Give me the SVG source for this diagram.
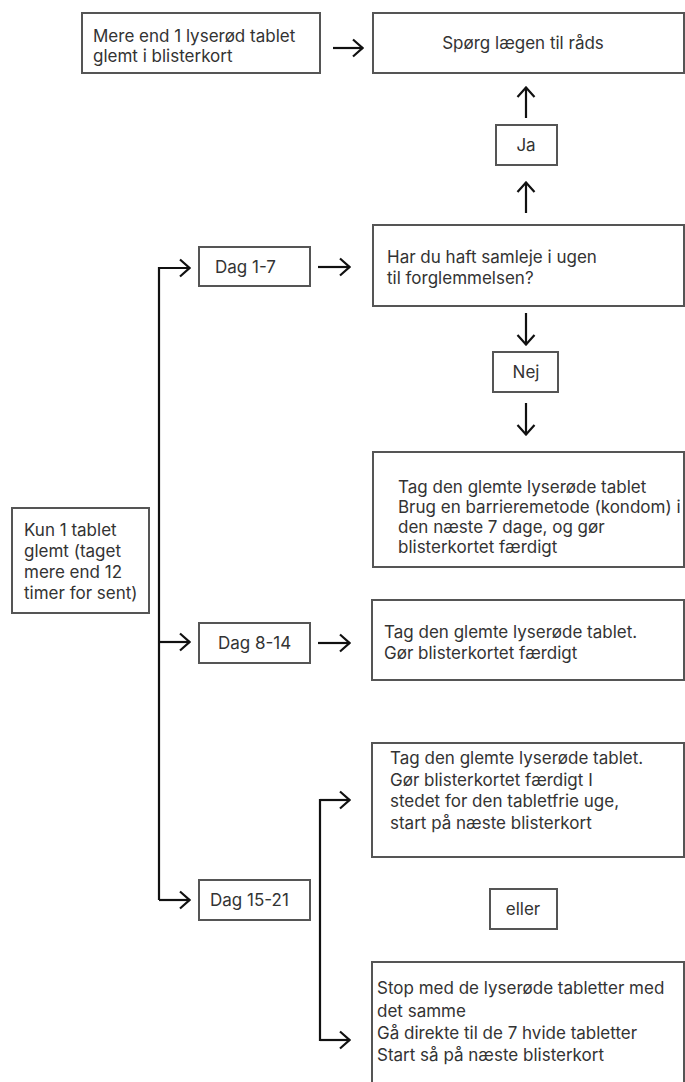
<svg xmlns="http://www.w3.org/2000/svg" width="685" height="1082" viewBox="0 0 685 1082">
<defs>
<style>
.box{fill:#fff;stroke:#555;stroke-width:2}
.t{font-family:Inter,"Liberation Sans",sans-serif;font-size:17px;fill:#333}
.c{text-anchor:middle}
.ln{fill:none;stroke:#111;stroke-width:2.2}
</style>
<marker id="ah" markerUnits="userSpaceOnUse" viewBox="0 0 13 20" markerWidth="13" markerHeight="20" refX="12" refY="10" orient="auto">
<path d="M2,1.5 L11.5,10 L2,18.5" fill="none" stroke="#111" stroke-width="2.2"/>
</marker>
</defs>
<rect width="685" height="1082" fill="#fff"/>

<g id="connectors">
<line class="ln" x1="333" y1="48" x2="363" y2="48" marker-end="url(#ah)"/>
<line class="ln" x1="526" y1="118" x2="526" y2="87" marker-end="url(#ah)"/>
<line class="ln" x1="526" y1="213" x2="526" y2="182" marker-end="url(#ah)"/>
<line class="ln" x1="318" y1="267" x2="350" y2="267" marker-end="url(#ah)"/>
<line class="ln" x1="526" y1="313" x2="526" y2="345" marker-end="url(#ah)"/>
<line class="ln" x1="526" y1="403" x2="526" y2="435" marker-end="url(#ah)"/>
<line class="ln" x1="318" y1="643" x2="350" y2="643" marker-end="url(#ah)"/>
<path class="ln" d="M159,900 L159,268 L190,268" marker-end="url(#ah)"/>
<line class="ln" x1="159" y1="642" x2="190" y2="642" marker-end="url(#ah)"/>
<line class="ln" x1="159" y1="900" x2="190" y2="900" marker-end="url(#ah)"/>
<path class="ln" d="M350,800 L320,800 L320,1040 L350,1040"/>
<line class="ln" x1="320" y1="800" x2="350" y2="800" marker-end="url(#ah)"/>
<line class="ln" x1="320" y1="1040" x2="350" y2="1040" marker-end="url(#ah)"/>
</g>

<g id="n-mere">
<rect class="box" x="82" y="13" width="238" height="60"/>
<text class="t" x="93" y="42">Mere end 1 lyserød tablet</text>
<text class="t" x="93" y="62">glemt i blisterkort</text>
</g>

<g id="n-spoerg">
<rect class="box" x="373" y="13" width="311" height="60"/>
<text class="t c" x="523" y="49">Spørg lægen til råds</text>
</g>

<g id="n-ja">
<rect class="box" x="496" y="125" width="61" height="40"/>
<text class="t c" x="526" y="151">Ja</text>
</g>

<g id="n-dag17">
<rect class="box" x="199" y="247" width="111" height="39"/>
<text class="t" x="215" y="273">Dag 1-7</text>
</g>

<g id="n-har">
<rect class="box" x="373" y="225" width="311" height="81"/>
<text class="t" x="387" y="263">Har du haft samleje i ugen</text>
<text class="t" x="387" y="284">til forglemmelsen?</text>
</g>

<g id="n-nej">
<rect class="box" x="493" y="352" width="65" height="40"/>
<text class="t c" x="526" y="378">Nej</text>
</g>

<g id="n-tag1">
<rect class="box" x="373" y="452" width="311" height="115"/>
<text class="t" x="398" y="493">Tag den glemte lyserøde tablet</text>
<text class="t" x="398" y="513">Brug en barrieremetode (kondom) i</text>
<text class="t" x="398" y="533">den næste 7 dage, og gør</text>
<text class="t" x="398" y="553">blisterkortet færdigt</text>
</g>

<g id="n-kun">
<rect class="box" x="12" y="508" width="137" height="105"/>
<text class="t" x="24" y="536">Kun 1 tablet</text>
<text class="t" x="24" y="557">glemt (taget</text>
<text class="t" x="24" y="578">mere end 12</text>
<text class="t" x="24" y="599">timer for sent)</text>
</g>

<g id="n-dag814">
<rect class="box" x="199" y="623" width="111" height="40"/>
<text class="t" x="218" y="649">Dag 8-14</text>
</g>

<g id="n-tag2">
<rect class="box" x="372" y="600" width="312" height="80"/>
<text class="t" x="384" y="638">Tag den glemte lyserøde tablet.</text>
<text class="t" x="384" y="659">Gør blisterkortet færdigt</text>
</g>

<g id="n-tag3">
<rect class="box" x="372" y="743" width="312" height="114"/>
<text class="t" x="390" y="764">Tag den glemte lyserøde tablet.</text>
<text class="t" x="390" y="786">Gør blisterkortet færdigt I</text>
<text class="t" x="390" y="807">stedet for den tabletfrie uge,</text>
<text class="t" x="390" y="829">start på næste blisterkort</text>
</g>

<g id="n-dag1521">
<rect class="box" x="199" y="880" width="111" height="40"/>
<text class="t" x="210" y="906">Dag 15-21</text>
</g>

<g id="n-eller">
<rect class="box" x="490" y="889" width="67" height="40"/>
<text class="t c" x="523" y="915">eller</text>
</g>

<g id="n-stop">
<rect class="box" x="372" y="962" width="312" height="130"/>
<text class="t" x="377" y="994">Stop med de lyserøde tabletter med</text>
<text class="t" x="377" y="1017">det samme</text>
<text class="t" x="377" y="1039">Gå direkte til de 7 hvide tabletter</text>
<text class="t" x="377" y="1061">Start så på næste blisterkort</text>
</g>
</svg>
